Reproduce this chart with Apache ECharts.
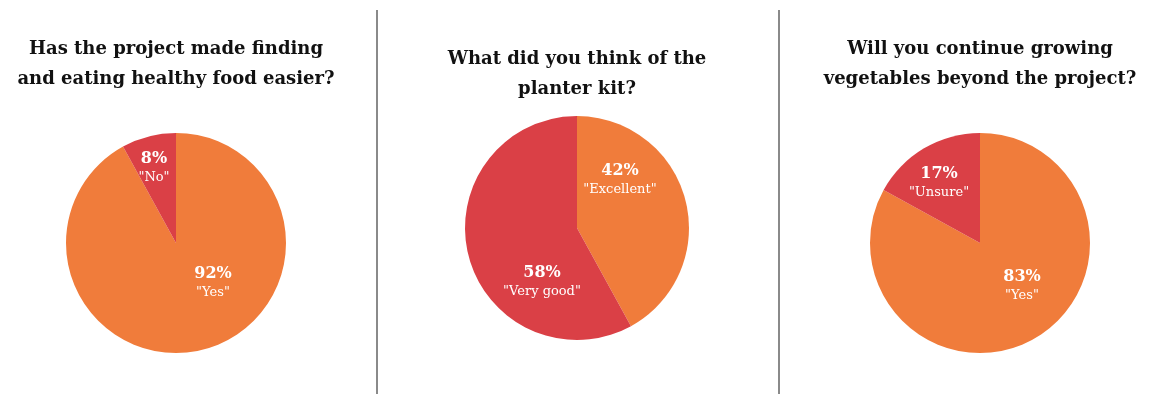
<!DOCTYPE html>
<html>
<head>
<meta charset="utf-8">
<script src="https://cdn.jsdelivr.net/npm/echarts@6/dist/echarts.min.js"></script>
<style>
  html, body { margin: 0; padding: 0; background: #ffffff; }
  #chart { width: 1149px; height: 394px; }
</style>
</head>
<body>
<div id="chart"></div>
<script>
// Survey questions (one pie per question)
const questions = [
  'Has the project made finding\nand eating healthy food easier?',
  'What did you think of the\nplanter kit?',
  'Will you continue growing\nvegetables beyond the project?'
];
// Answer names and shares (%) per question, first answer drawn clockwise from 12 o'clock
const answers1 = ['Yes', 'No'];
const values1 = [92, 8];
const answers2 = ['Excellent', 'Very good'];
const values2 = [42, 58];
const answers3 = ['Yes', 'Unsure'];
const values3 = [83, 17];

const ORANGE = '#F07C3B';
const RED = '#DA4046';
const SLAB = '"DejaVu Serif", "Liberation Serif", serif';

// Layout: pie centres, radii, title positions
const pies = [
  { cx: 176, cy: 243, r: 110, titleY: 34 },
  { cx: 577, cy: 228, r: 112, titleY: 44 },
  { cx: 980, cy: 243, r: 110, titleY: 34 }
];
// Label anchors, offset from each pie's centre (px)
const labelOffsets = [
  [[37, 40], [-22, -75]],
  [[43, -48], [-35, 54]],
  [[42, 43], [-41, -60]]
];

const datasets = [
  [answers1, values1],
  [answers2, values2],
  [answers3, values3]
];

const series = datasets.map(([names, vals], i) => ({
  type: 'pie',
  center: [pies[i].cx, pies[i].cy],
  radius: [0, pies[i].r],
  startAngle: 90,
  clockwise: true,
  silent: true,
  animation: false,
  data: names.map((n, j) => ({
    name: n,
    value: vals[j],
    itemStyle: { color: j === 0 ? ORANGE : RED }
  })),
  label: {
    show: true,
    position: 'inside',
    align: 'center',
    verticalAlign: 'middle',
    formatter: p => '{p|' + p.value + '%}\n{n|"' + p.name + '"}',
    rich: {
      p: { fontFamily: SLAB, fontWeight: 'bold', fontSize: 16, color: '#ffffff', lineHeight: 19, align: 'center' },
      n: { fontFamily: SLAB, fontSize: 13, color: '#ffffff', lineHeight: 18, align: 'center' }
    }
  },
  labelLine: { show: false },
  labelLayout: params => {
    const off = labelOffsets[i][params.dataIndex];
    return { x: pies[i].cx + off[0], y: pies[i].cy + off[1], align: 'center', verticalAlign: 'middle' };
  }
}));

const titles = questions.map((q, i) => ({
  text: q,
  left: pies[i].cx,
  top: pies[i].titleY,
  textAlign: 'center',
  padding: 0,
  textStyle: {
    fontFamily: SLAB,
    fontWeight: 'bold',
    fontSize: 18,
    lineHeight: 30,
    color: '#111111'
  }
}));

const chart = echarts.init(document.getElementById('chart'), null, { renderer: 'canvas' });
chart.setOption({
  backgroundColor: '#ffffff',
  animation: false,
  title: titles,
  series: series,
  graphic: [377, 779].map(x => ({
    type: 'line',
    shape: { x1: x, y1: 10, x2: x, y2: 394 },
    style: { stroke: '#8a8a8a', lineWidth: 2 },
    silent: true
  }))
});
</script>
</body>
</html>
